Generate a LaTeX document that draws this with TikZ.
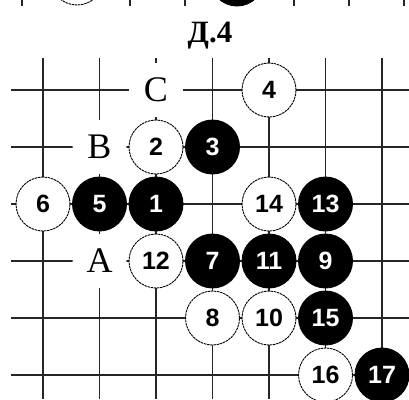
\documentclass[tikz,border=0pt]{standalone}
\usepackage{fontspec}
\setmainfont{Liberation Serif}
\newfontfamily\numfont{Liberation Sans}
\tikzset{
  gridline/.style={line width=1.4pt, black!85},
  wstone/.style={circle, minimum size=54pt, inner sep=0pt, fill=white, draw=black, line width=0.9pt, dash pattern=on 2.5pt off 0.7pt, font=\numfont\bfseries\fontsize{25}{25}\selectfont},
  bstone/.style={circle, minimum size=54pt, inner sep=0pt, fill=black, draw=black, line width=0.9pt, text=white, font=\numfont\bfseries\fontsize{25}{25}\selectfont},
  lbl/.style={circle, minimum size=54pt, inner sep=0pt, fill=white, font=\fontsize{36}{36}\selectfont},
}
\begin{document}
\begin{tikzpicture}[x=1pt,y=-1pt]
\useasboundingbox (0,0) rectangle (409,399);
% partial diagram above
\foreach \x in {22,130,185,294,349,404} \draw[gridline] (\x,-5) -- (\x,6);
\node[wstone] (pw) at (77,-22) {};
\node[bstone] (pb) at (237,-21) {};
% title
\node[anchor=base, font=\bfseries\fontsize{31}{31}\selectfont] (title) at (210,42) {Д.4};
% grid
\foreach \r in {0,...,5} {
  \draw[gridline] (11,90+57*\r) -- (409,90+57*\r);
}
\foreach \c in {0,...,6} {
  \draw[gridline] (43+56.5*\c,58) -- (43+56.5*\c,399);
}
% helper macro for positions
\def\X#1{43+56.5*#1}
\def\Y#1{90+57*#1}
% labels
\node[lbl] (C) at ({\X{2}},{\Y{0}}) {C};
\node[lbl] (B) at ({\X{1}},{\Y{1}}) {B};
\node[lbl] (A) at ({\X{1}},{\Y{3}}) {A};
% stones
\node[wstone] (s4)  at ({\X{4}},{\Y{0}}) {4};
\node[wstone] (s2)  at ({\X{2}},{\Y{1}}) {2};
\node[bstone] (s3)  at ({\X{3}},{\Y{1}}) {3};
\node[wstone] (s6)  at ({\X{0}},{\Y{2}}) {6};
\node[bstone] (s5)  at ({\X{1}},{\Y{2}}) {5};
\node[bstone] (s1)  at ({\X{2}},{\Y{2}}) {1};
\node[wstone] (s14) at ({\X{4}},{\Y{2}}) {14};
\node[bstone] (s13) at ({\X{5}},{\Y{2}}) {13};
\node[wstone] (s12) at ({\X{2}},{\Y{3}}) {12};
\node[bstone] (s7)  at ({\X{3}},{\Y{3}}) {7};
\node[bstone] (s11) at ({\X{4}},{\Y{3}}) {11};
\node[bstone] (s9)  at ({\X{5}},{\Y{3}}) {9};
\node[wstone] (s8)  at ({\X{3}},{\Y{4}}) {8};
\node[wstone] (s10) at ({\X{4}},{\Y{4}}) {10};
\node[bstone] (s15) at ({\X{5}},{\Y{4}}) {15};
\node[wstone] (s16) at ({\X{5}},{\Y{5}}) {16};
\node[bstone] (s17) at ({\X{6}},{\Y{5}}) {17};
\end{tikzpicture}
\end{document}
